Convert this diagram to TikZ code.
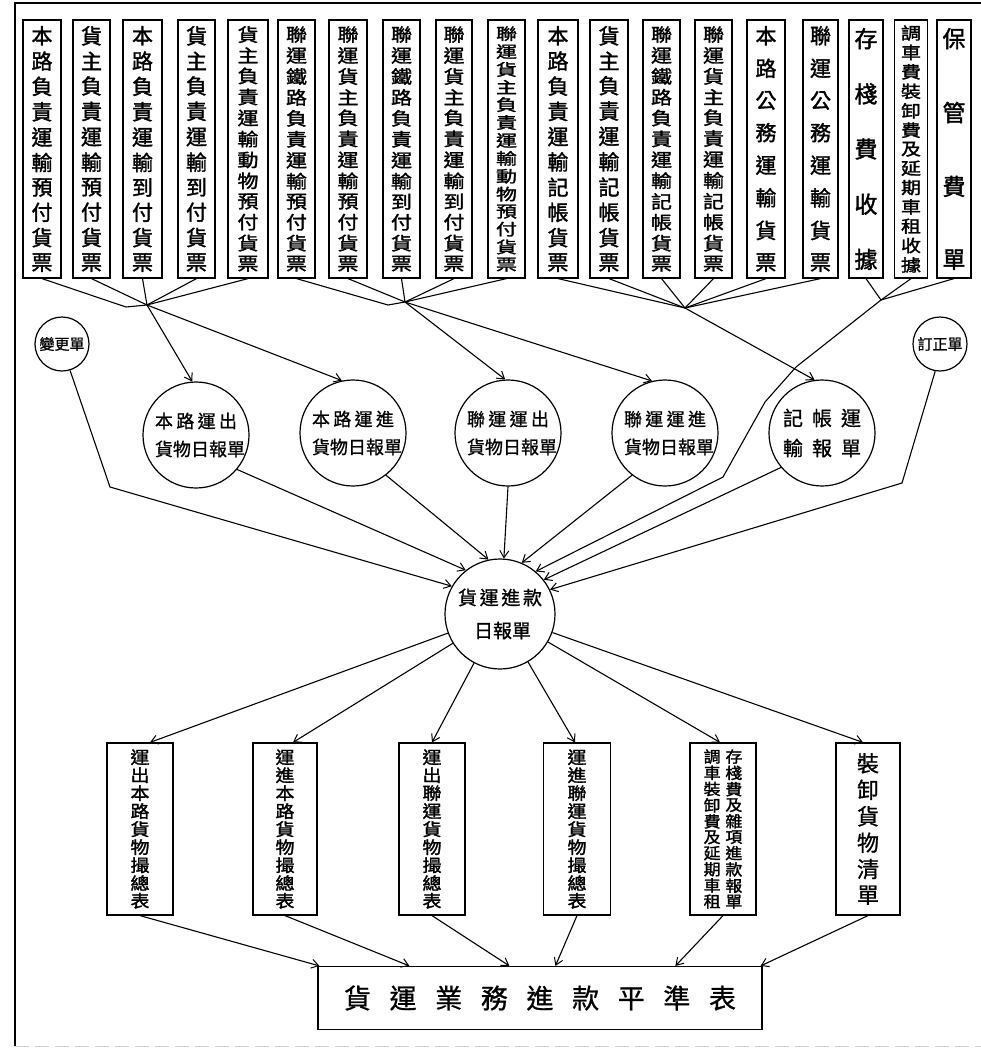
\documentclass[tikz,border=0pt]{standalone}
\usepackage{fontspec}
\setmainfont{Noto Sans CJK TC}
\newfontfamily\heavy{Noto Sans CJK TC}[FakeBold=1.6]
\newfontfamily\medium{Noto Sans CJK TC}[FakeBold=0.9]
\usepackage{graphicx}
\usetikzlibrary{arrows.meta,calc}

\makeatletter
% a column of characters spread over a given height; optional vertical squeeze
\newcommand\colchars[3][1]{\vbox to #2{\offinterlineskip\def\cc@sc{#1}\cc@first#3\relax}}
\def\cc@first#1{\cc@char{#1}\cc@rest}
\def\cc@rest#1{\ifx\relax#1\else\vfil\cc@char{#1}\expandafter\cc@rest\fi}
\def\cc@char#1{\hbox to 1.1em{\hss\scalebox{1}[\cc@sc]{#1}\hss}}
% a row of characters spread over a given width
\newcommand\rowchars[2]{\hbox to #1{\rc@first#2\relax}}
\def\rc@first#1{#1\rc@rest}
\def\rc@rest#1{\ifx\relax#1\else\hfil#1\expandafter\rc@rest\fi}
\makeatother

\tikzset{
  wire/.style={line width=1.1pt},
  arr/.style={line width=1.1pt,-{Straight Barb[length=7pt,width=9pt,line width=1pt]}},
  slip/.style={draw,line width=1.2pt,inner sep=0pt,minimum width=37pt,minimum height=258pt,
    font=\heavy\fontsize{21}{21}\selectfont},
  table/.style={draw,line width=1.2pt,inner sep=0pt,minimum height=172pt,
    font=\heavy\fontsize{19}{19}\selectfont},
  report/.style={draw,circle,line width=1.2pt,inner sep=0pt,minimum size=106pt,align=center,
    font=\medium\fontsize{18}{28}\selectfont},
  memo/.style={draw,circle,line width=1.2pt,inner sep=0pt,minimum size=54pt,
    font=\medium\fontsize{15}{15}\selectfont},
}

\begin{document}
\begin{tikzpicture}[x=1pt,y=-1pt]
\useasboundingbox (0,0) rectangle (981,1052);

% outer frame
\draw[line width=1.2pt] (981,3) -- (15,3) -- (15,1046);
\draw[gray!35,line width=1pt,dash pattern=on 14pt off 6pt] (15,1046) -- (981,1046);

% waybills and receipts
\node[slip,minimum width=38pt] (t1) at (42,149) {\colchars{244pt}{本路負責運輸預付貨票}};
\node[slip] (t2) at (91.5,149) {\colchars{244pt}{貨主負責運輸預付貨票}};
\node[slip,minimum width=39pt] (t3) at (142.5,149) {\colchars{244pt}{本路負責運輸到付貨票}};
\node[slip] (t4) at (196.5,149) {\colchars{244pt}{貨主負責運輸到付貨票}};
\node[slip,minimum width=40pt] (t5) at (248,149) {\colchars[0.86]{244pt}{貨主負責運輸動物預付貨票}};
\node[slip] (t6) at (296.5,149) {\colchars[0.86]{244pt}{聯運鐵路負責運輸預付貨票}};
\node[slip,minimum width=38pt] (t7) at (348,149) {\colchars[0.86]{244pt}{聯運貨主負責運輸預付貨票}};
\node[slip] (t8) at (401.5,149) {\colchars[0.86]{244pt}{聯運鐵路負責運輸到付貨票}};
\node[slip,minimum width=36pt] (t9) at (454,149) {\colchars[0.86]{244pt}{聯運貨主負責運輸到付貨票}};
\node[slip] (t10) at (506.5,149) {\colchars[0.76]{244pt}{聯運貨主負責運輸動物預付貨票}};
\node[slip,minimum width=40pt] (t11) at (558,149) {\colchars{244pt}{本路負責運輸記帳貨票}};
\node[slip,minimum width=38pt] (t12) at (609,149) {\colchars{244pt}{貨主負責運輸記帳貨票}};
\node[slip] (t13) at (661.5,149) {\colchars[0.86]{244pt}{聯運鐵路負責運輸記帳貨票}};
\node[slip] (t14) at (713.5,149) {\colchars[0.86]{244pt}{聯運貨主負責運輸記帳貨票}};
\node[slip,minimum width=38pt] (t15) at (766,149) {\colchars{244pt}{本路公務運輸貨票}};
\node[slip,minimum width=35pt] (t16) at (820.5,149) {\colchars{244pt}{聯運公務運輸貨票}};
\node[slip,minimum width=34pt,font=\heavy\fontsize{23}{23}\selectfont] (t17) at (866,149) {\colchars{240pt}{存棧費收據}};
\node[slip,minimum width=33pt,font=\heavy\fontsize{20}{20}\selectfont] (t18) at (911,149) {\colchars[0.84]{246pt}{調車費裝卸費及延期車租收據}};
\node[slip,minimum width=34pt,font=\heavy\fontsize{23}{23}\selectfont] (t19) at (954,149) {\colchars{240pt}{保管費單}};

% collecting points below the slips
\coordinate (j1) at (147,305);
\coordinate (k1) at (126,307);
\coordinate (j2) at (405,302);
\coordinate (k2) at (388,305);
\coordinate (j3) at (685,308);
\coordinate (j4) at (881,300);

\draw[wire] (t1.south) -- (k1) -- (j1);
\foreach \i in {2,3,4,5} \draw[wire] (t\i.south) -- (j1);
\draw[wire] (t6.south) -- (k2) -- (j2);
\foreach \i in {7,8,9,10} \draw[wire] (t\i.south) -- (j2);
\foreach \i in {11,...,16} \draw[wire] (t\i.south) -- (j3);
\foreach \i in {17,18,19} \draw[wire] (t\i.south) -- (j4);

% daily reports
\node[memo] (s1) at (62,344) {變更單};
\node[memo] (s2) at (940,344) {訂正單};
\node[report] (c1) at (196,435) {\rowchars{82pt}{本路運出}\\\rowchars{82pt}{貨物日報單}};
\node[report] (c2) at (353,433) {\rowchars{82pt}{本路運進}\\\rowchars{82pt}{貨物日報單}};
\node[report] (c3) at (508,433) {\rowchars{82pt}{聯運運出}\\\rowchars{82pt}{貨物日報單}};
\node[report] (c4) at (665,433) {\rowchars{82pt}{聯運運進}\\\rowchars{82pt}{貨物日報單}};
\node[report,font=\medium\fontsize{20}{30}\selectfont] (c5) at (822,433) {\rowchars{78pt}{記帳運}\\\rowchars{78pt}{輸報單}};

\draw[arr] (j1) -- (c1.94);
\draw[arr] (j1) -- (c2.102);
\draw[arr] (j2) -- (c3.93);
\draw[arr] (j2) -- (c4.104);
\draw[arr] (j3) -- (c5.98);

% daily receipts report
\node[report,minimum size=110pt,font=\medium\fontsize{19}{33}\selectfont] (cc) at (500,614)
  {\rowchars{84pt}{貨運進款}\\\rowchars{52pt}{日報單}};

\coordinate (m1) at (110,487);
\coordinate (m2) at (902,483);
\draw[arr] (s1.-73) -- (m1) -- (cc.150);
\draw[arr] (c1.-40) -- (cc.128);
\draw[arr] (c2.-52) -- (cc.102);
\draw[arr] (c3.-90) -- (cc.86);
\draw[arr] (c4.232) -- (cc.67);
\draw[arr] (j4) -- (796,367) -- (765,402) -- (723,477) -- (cc.50);
\draw[arr] (c5.220) -- (cc.38);
\draw[arr] (s2.-100) -- (m2) -- (cc.26);

% summary tables
\node[table,minimum width=66pt] (b1) at (140,829) {\colchars[0.9]{158pt}{運出本路貨物撮總表}};
\node[table,minimum width=64pt] (b2) at (285,829) {\colchars[0.9]{158pt}{運進本路貨物撮總表}};
\node[table,minimum width=66pt] (b3) at (432,829) {\colchars[0.9]{158pt}{運出聯運貨物撮總表}};
\node[table,minimum width=67pt] (b4) at (577,829) {\colchars[0.9]{158pt}{運進聯運貨物撮總表}};
\node[table,minimum width=66pt,font=\heavy\fontsize{17}{17}\selectfont] (b5) at (723,829)
  {\hbox{\colchars[0.92]{158pt}{調車裝卸費及延期車租}\hspace{3pt}\colchars[0.92]{158pt}{存棧費及雜項進款報單}}};
\node[table,minimum width=64pt,font=\medium\fontsize{22}{22}\selectfont] (b6) at (868,829) {\colchars{150pt}{裝卸貨物清單}};

\draw[arr] (cc) -- ($(b1.north)+(10,0)$);
\draw[arr] (cc) -- ($(b2.north)+(8,0)$);
\draw[arr] (cc) -- (b3.north);
\draw[arr] (cc) -- ($(b4.north)+(-2,0)$);
\draw[arr] (cc) -- ($(b5.north)+(-3,0)$);
\draw[arr] (cc) -- ($(b6.north)+(-5,0)$);

% balance sheet
\node[draw,line width=1.2pt,inner sep=0pt,minimum width=444pt,minimum height=63pt,
  font=\medium\fontsize{27}{27}\selectfont] (f) at (540,998) {\rowchars{392pt}{貨運業務進款平準表}};

\draw[arr] (b1.south) -- ($(f.north west)+(2,0)$);
\draw[arr] (b2.south) -- ($(f.north west)+(92,0)$);
\draw[arr] (b3.south) -- ($(f.north west)+(192,0)$);
\draw[arr] (b4.south) -- ($(f.north west)+(238,0)$);
\draw[arr] (b5.south) -- ($(f.north west)+(358,0)$);
\draw[arr] (b6.south) -- ($(f.north east)+(-2,0)$);
\end{tikzpicture}
\end{document}
